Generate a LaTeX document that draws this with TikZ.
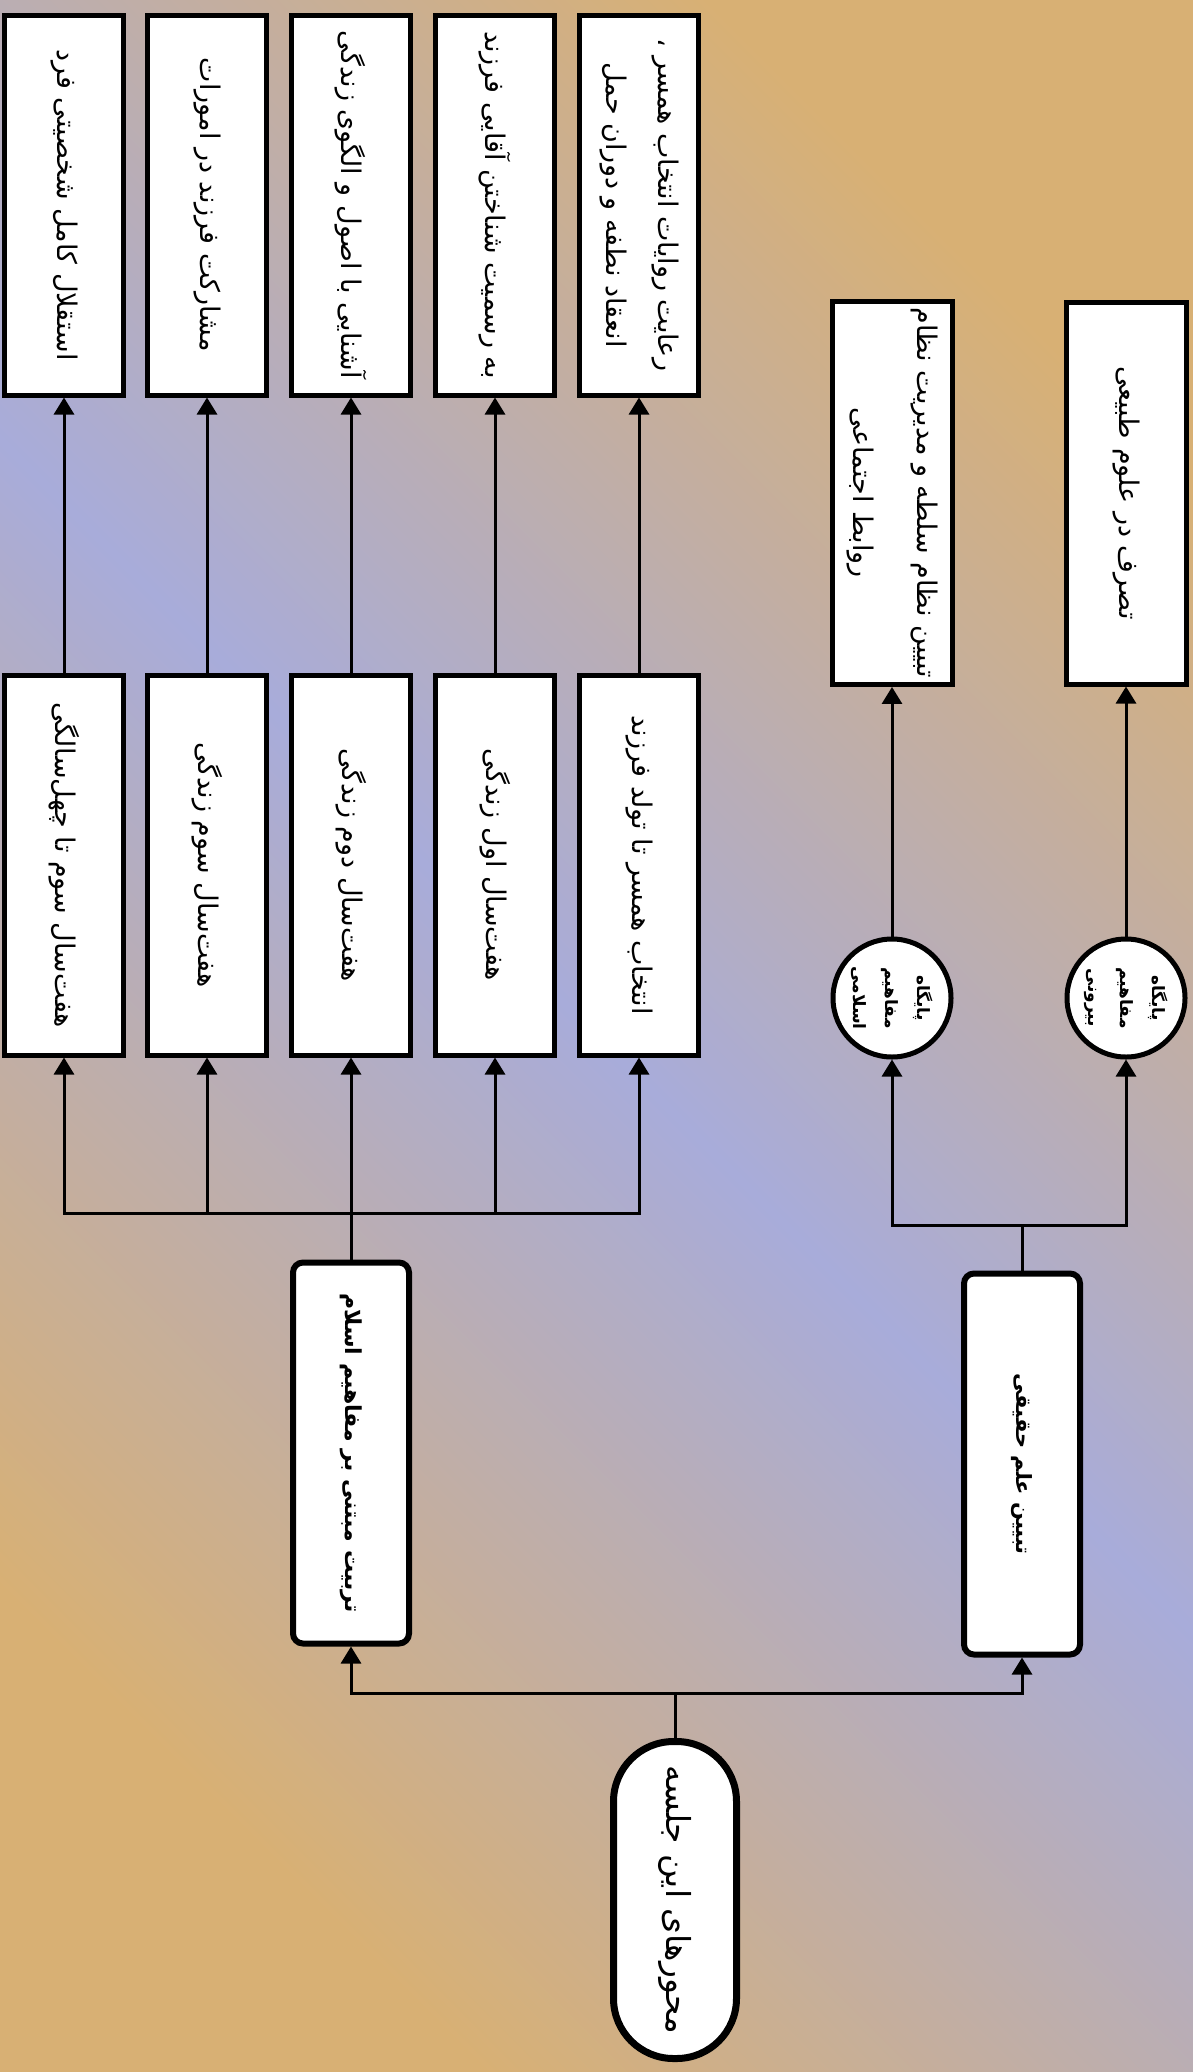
\documentclass[tikz,border=0pt]{standalone}
\usepackage{fontspec}
\usetikzlibrary{arrows.meta}
\newfontfamily\fafont[Script=Arabic]{DejaVu Sans}
\TeXXeTstate=1
\newcommand{\rl}[1]{\beginR #1\endR}
\definecolor{tanbg}{RGB}{216,176,116}
\definecolor{lavbg}{RGB}{168,172,218}

\begin{document}
\begin{tikzpicture}[x=0.5pt,y=-0.5pt,
  stage/.style={draw,fill=white,line width=2.5pt,rotate=-90,minimum width=190pt,minimum height=59.5pt,inner sep=3pt,align=center,font=\fafont\fontsize{13.5}{24}\selectfont},
  branch/.style={draw,fill=white,line width=3pt,rounded corners=5pt,rotate=-90,minimum width=190.5pt,minimum height=58pt,align=center,font=\fafont\bfseries\fontsize{11}{20}\selectfont},
  base/.style={draw,fill=white,circle,line width=2.5pt,rotate=-90,minimum size=59pt,inner sep=0pt,align=center,font=\fafont\bfseries\fontsize{8.5}{16}\selectfont},
  topic/.style={draw,fill=white,line width=3.5pt,rounded corners=30pt,rotate=-90,minimum width=158.5pt,minimum height=61.5pt,font=\fafont\fontsize{16.5}{20}\selectfont},
  wire/.style={line width=1.5pt},
  arr/.style={wire,-{Triangle[length=8.5pt,width=10pt]}}]

\shade[left color=tanbg,right color=tanbg,middle color=lavbg,shading angle=-45] (0,0) rectangle (1193,2072);
\useasboundingbox (0,0) rectangle (1193,2072);

% root and the two branches
\node[topic] (root) at (675,1900) {\rl{محورهای این جلسه}};
\node[branch] (isl) at (351,1453) {\rl{تربیت مبتنی بر مفاهیم اسلام}};
\node[branch,font=\fafont\bfseries\fontsize{10.5}{20}\selectfont] (haq) at (1022,1464) {\rl{تبیین علم حقیقی}};
\coordinate (rb) at (675,1693);
\draw[wire] (root.west) -- (rb);
\draw[arr] (rb) -| (isl.east);
\draw[arr] (rb) -| (haq.east);

% stages
\node[stage] (s1) at (64,865) {\rl{هفت^^^^200cسال سوم تا چهل^^^^200cسالگی}};
\node[stage] (s2) at (207,865) {\rl{هفت^^^^200cسال سوم زندگی}};
\node[stage] (s3) at (351,865) {\rl{هفت^^^^200cسال دوم زندگی}};
\node[stage] (s4) at (495,865) {\rl{هفت^^^^200cسال اول زندگی}};
\node[stage] (s5) at (639,865) {\rl{انتخاب همسر تا تولد فرزند}};

\node[stage] (g1) at (64,205) {\rl{استقلال کامل شخصیتی فرد}};
\node[stage] (g2) at (207,205) {\rl{مشارکت فرزند در امورات}};
\node[stage] (g3) at (351,205) {\rl{آشنایی با اصول و الگوی زندگی}};
\node[stage] (g4) at (495,205) {\rl{به رسمیت شناختن آقایی فرزند}};
\node[stage] (g5) at (639,205) {\rl{رعایت روایات انتخاب همسر ،}\\[2pt]\rl{انعقاد نطفه و دوران حمل}};

\coordinate (ib) at (351,1213);
\draw[wire] (isl.west) -- (ib);
\draw[arr] (ib) -| (s1.east);
\draw[arr] (ib) -| (s2.east);
\draw[arr] (ib) -- (s3.east);
\draw[arr] (ib) -| (s4.east);
\draw[arr] (ib) -| (s5.east);

\draw[arr] (s1.west) -- (g1.east);
\draw[arr] (s2.west) -- (g2.east);
\draw[arr] (s3.west) -- (g3.east);
\draw[arr] (s4.west) -- (g4.east);
\draw[arr] (s5.west) -- (g5.east);

% bases of knowledge
\node[base] (b1) at (892,998) {\rl{پایگاه}\\\rl{مفاهیم}\\\rl{اسلامی}};
\node[base] (b2) at (1126,998) {\rl{پایگاه}\\\rl{مفاهیم}\\\rl{بیرونی}};
\node[stage,minimum width=191pt,minimum height=60pt] (r1) at (892,493) {\rl{تبیین نظام سلطه و مدیریت نظام}\\[8pt]\rl{روابط اجتماعی}};
\node[stage,minimum width=191pt,minimum height=60pt] (r2) at (1126,493) {\rl{تصرف در علوم طبیعی}};

\coordinate (hb) at (1022,1225);
\draw[wire] (haq.west) -- (hb);
\draw[arr] (hb) -| (b1.east);
\draw[arr] (hb) -| (b2.east);
\draw[arr] (b1.west) -- (r1.east);
\draw[arr] (b2.west) -- (r2.east);
\end{tikzpicture}
\end{document}
